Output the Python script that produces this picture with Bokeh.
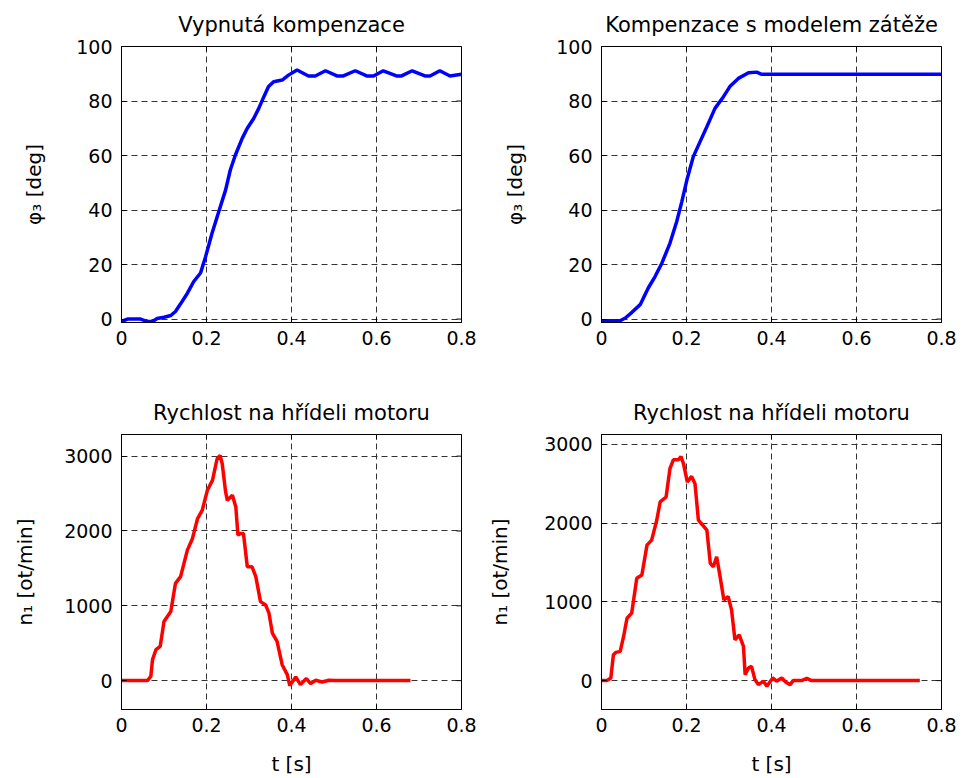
import math
from bokeh.plotting import figure
from bokeh.layouts import column, row
from bokeh.models import FixedTicker
from bokeh.embed import file_html
from bokeh.resources import INLINE

# ---- data ----
t_phi_off = [0, 0.014, 0.045, 0.061, 0.073, 0.084, 0.1, 0.116, 0.127, 0.139, 0.155, 0.17, 0.186,
             0.198, 0.213, 0.229, 0.245, 0.256, 0.268, 0.284, 0.296, 0.311, 0.323, 0.335, 0.346,
             0.358, 0.378, 0.393, 0.413, 0.44, 0.456, 0.48, 0.507, 0.522, 0.55, 0.577, 0.593,
             0.616, 0.647, 0.659, 0.684, 0.714, 0.726, 0.749, 0.773, 0.8]
phi_off = [-0.9, 0, 0, -0.9, -0.9, 0.2, 0.7, 1.3, 2.8, 5.6, 9.5, 13.8, 16.9,
           23, 31.5, 39.5, 47.4, 54.7, 60.2, 66.3, 70, 73.6, 77.3, 81.6, 85.3,
           87.1, 87.7, 89.5, 91.4, 89.2, 89.2, 91.1, 89.2, 89.2, 91.1, 89.2, 89.2,
           91.1, 89.2, 89.2, 91.1, 89.2, 89.2, 91.1, 89.2, 89.8]

t_phi_on = [0, 0.044, 0.056, 0.071, 0.091, 0.11, 0.126, 0.142, 0.161, 0.177, 0.189, 0.201,
            0.216, 0.232, 0.248, 0.267, 0.287, 0.302, 0.322, 0.346, 0.365, 0.377, 0.8]
phi_on = [-0.6, -0.6, 0.4, 2.4, 5.3, 11.4, 15.6, 20.5, 27.8, 35.8, 43.1, 51.1,
          59.6, 65.1, 70.6, 77.3, 81.6, 85.3, 88.3, 90.4, 90.6, 89.8, 89.8]

t_n_off = [0, 0.061, 0.069, 0.073, 0.081, 0.091, 0.1, 0.116, 0.127, 0.139, 0.155, 0.167, 0.179,
           0.19, 0.202, 0.214, 0.225, 0.232, 0.237, 0.245, 0.249, 0.261, 0.269, 0.274, 0.28,
           0.287, 0.296, 0.307, 0.316, 0.327, 0.339, 0.347, 0.355, 0.366, 0.378, 0.39, 0.396,
           0.41, 0.421, 0.435, 0.445, 0.457, 0.472, 0.488, 0.503, 0.68]
n_off = [0, 0, 58, 280, 413, 457, 790, 923, 1300, 1389, 1744, 1900, 2166,
         2277, 2543, 2676, 2965, 3009, 2898, 2521, 2410, 2477, 2321, 1944, 1966,
         1966, 1522, 1522, 1389, 1056, 1012, 901, 635, 524, 213, 80, -67,
         49, -53, 27, -40, 4, -18, 4, 0, 0]

t_n_on = [0, 0.0125, 0.022, 0.028, 0.034, 0.044, 0.052, 0.06, 0.071, 0.083, 0.095, 0.107, 0.118,
          0.13, 0.138, 0.152, 0.161, 0.169, 0.181, 0.187, 0.193, 0.202, 0.212, 0.22, 0.228,
          0.24, 0.248, 0.256, 0.263, 0.271, 0.279, 0.288, 0.298, 0.306, 0.314, 0.324, 0.334,
          0.338, 0.346, 0.353, 0.361, 0.369, 0.381, 0.389, 0.403, 0.412, 0.424, 0.434, 0.444,
          0.451, 0.471, 0.483, 0.494, 0.749]
n_on = [0, 0, 34, 329, 359, 371, 561, 793, 857, 1300, 1342, 1722, 1785,
        2038, 2270, 2333, 2692, 2806, 2806, 2848, 2755, 2523, 2595, 2502, 2038,
        1962, 1911, 1489, 1447, 1574, 1321, 1025, 1068, 899, 519, 582, 435,
        76, 160, 181, 13, -51, -8, -72, 34, -8, 34, -21, -51,
        0, 0, 30, 0, 0]

x_ticks = [0, 0.2, 0.4, 0.6, 0.8]
x_tick_labels = {0: "0", 0.2: "0.2", 0.4: "0.4", 0.6: "0.6", 0.8: "0.8"}
phi_ticks = [0, 20, 40, 60, 80, 100]
n_ticks = [0, 1000, 2000, 3000]

titles = ["Vypnutá kompenzace", "Kompenzace s modelem zátěže",
          "Rychlost na hřídeli motoru", "Rychlost na hřídeli motoru"]
ylabel_phi = "φ₃ [deg]"
ylabel_n = "n₁ [ot/min]"
xlabel = "t [s]"

FONT = "DejaVu Sans"
X_MAX = 0.8


def make(title, xs, ys, color, yr, yticks, ylabel, bl, br, bt, bb, show_xlabel, lstand):
    p = figure(width=481, height=389, x_range=(0, X_MAX), y_range=yr,
               output_backend="svg", toolbar_location=None,
               min_border_left=bl, min_border_right=br,
               min_border_top=bt, min_border_bottom=bb)
    p.line(xs, ys, line_color=color, line_width=3.5)
    p.title.text = title
    p.title.align = "center"
    p.title.vertical_align = "top"
    p.title.text_font = FONT
    p.title.text_font_size = "21px"
    p.title.text_font_style = "normal"
    p.title.text_color = "black"
    p.title.standoff = 16
    p.outline_line_color = "black"
    p.outline_line_alpha = 1
    p.background_fill_color = "white"
    p.border_fill_color = "white"

    for ax in [p.xaxis[0], p.yaxis[0]]:
        ax.major_tick_in = 5
        ax.major_tick_out = 0
        ax.minor_tick_in = 0
        ax.minor_tick_out = 0
        ax.axis_line_color = "black"
        ax.major_tick_line_color = "black"
        ax.major_label_text_font = FONT
        ax.major_label_text_font_size = "19px"
        ax.major_label_text_color = "black"
        ax.axis_label_text_font = FONT
        ax.axis_label_text_font_size = "20px"
        ax.axis_label_text_font_style = "normal"
        ax.axis_label_text_color = "black"
    p.xaxis[0].ticker = FixedTicker(ticks=x_ticks)
    p.xaxis[0].major_label_overrides = x_tick_labels
    p.xaxis[0].major_label_standoff = 8
    p.yaxis[0].ticker = FixedTicker(ticks=yticks)
    p.yaxis[0].major_label_standoff = 9
    p.yaxis[0].axis_label = ylabel
    p.yaxis[0].axis_label_standoff = lstand
    if show_xlabel:
        p.xaxis[0].axis_label = xlabel
        p.xaxis[0].axis_label_standoff = 17

    # box ticks on the top and right edges (inside only; outer half is clipped)
    p.scatter(x=x_ticks, y=[yr[1]] * len(x_ticks), marker="dash", angle=math.pi / 2,
              size=10, line_color="black", line_width=1)
    p.scatter(x=[X_MAX] * len(yticks), y=yticks, marker="dash",
              size=10, line_color="black", line_width=1)

    for g in [p.xgrid[0], p.ygrid[0]]:
        g.grid_line_color = "#333333"
        g.grid_line_dash = "6 4"
        g.grid_line_width = 1
        g.grid_line_alpha = 1
    return p


p1 = make(titles[0], t_phi_off, phi_off, "#0000FF", (-1.25, 100), phi_ticks, ylabel_phi,
          121, 20, 46, 67, False, 27)
p2 = make(titles[1], t_phi_on, phi_on, "#0000FF", (-1.25, 100), phi_ticks, ylabel_phi,
          120, 21, 46, 67, False, 26)
p3 = make(titles[2], t_n_off, n_off, "#FF0000", (-386, 3289), n_ticks, ylabel_n,
          121, 20, 45, 68, True, 24)
p4 = make(titles[3], t_n_on, n_on, "#FF0000", (-367, 3127), n_ticks, ylabel_n,
          120, 21, 45, 68, True, 29)

layout = column(row(p1, p2), row(p3, p4))
open("out.html", "w").write(file_html(layout, INLINE))
